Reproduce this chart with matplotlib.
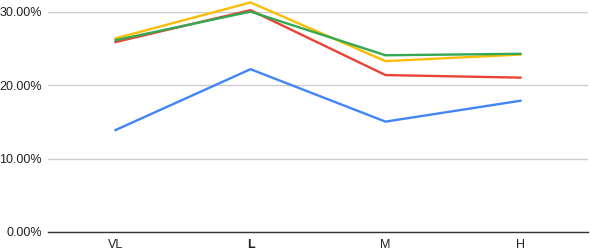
import matplotlib
matplotlib.use("Agg")
import matplotlib.pyplot as plt
from matplotlib.ticker import FuncFormatter

categories = ["VL", "L", "M", "H"]
blue = [13.9, 22.2, 15.05, 17.9]
red = [25.9, 30.25, 21.4, 21.05]
yellow = [26.4, 31.3, 23.3, 24.2]
green = [26.15, 30.05, 24.1, 24.3]

series = [(blue, "#4285F4"), (red, "#EA4335"), (yellow, "#FBBC04"), (green, "#34A853")]

plt.rcParams['font.family'] = ['Liberation Sans', 'DejaVu Sans']
fig = plt.figure(figsize=(5.9, 2.5), dpi=100)
ax = fig.add_axes([48/590, 1-232/250, 540/590, 220/250])

x = list(range(len(categories)))
for vals, col in series:
    ax.plot(x, [v/100 for v in vals], color=col, lw=1.7, clip_on=False, solid_joinstyle='miter')

ax.set_xlim(-0.5, len(categories)-0.5)
ax.set_ylim(0, 0.30)
ax.set_yticks([0, 0.10, 0.20, 0.30])
ax.yaxis.set_major_formatter(FuncFormatter(lambda v, p: f"{v*100:.2f}%"))
ax.grid(axis='y', color='#cccccc', lw=1)
ax.set_axisbelow(True)
for s in ['top', 'right', 'left']:
    ax.spines[s].set_visible(False)
ax.spines['bottom'].set_color('#333333')
ax.spines['bottom'].set_linewidth(1)
ax.tick_params(axis='both', length=0, labelsize=9, colors='#222222')
ax.tick_params(axis='y', pad=4.5)
ax.tick_params(axis='x', pad=5)
ax.set_xticks(x)
ax.set_xticklabels(categories)
ax.get_xticklabels()[1].set_fontweight('bold')

fig.savefig("out.png", dpi=100)
